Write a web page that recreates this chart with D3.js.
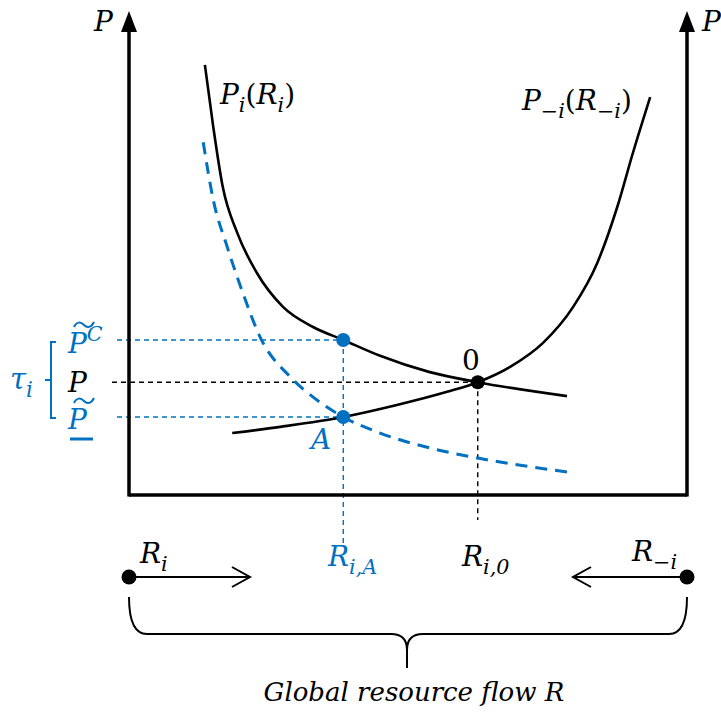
<!DOCTYPE html>
<html>
<head>
<meta charset="utf-8">
<script src="https://cdn.jsdelivr.net/npm/d3@7"></script>
<style>
  body { margin: 0; background: #fff; }
  text { font-family: "DejaVu Serif", "Liberation Serif", serif; }
</style>
</head>
<body>
<svg id="vis" width="721" height="715"></svg>
<script>
// curve data (R and P on a 0-100 scale)
const piCurve = [[13.6,89.6],[15.1,76.7],[16.8,64.2],[19.4,54.6],[22.9,46.3],[27.6,39.2],[33.0,35.0],[38.4,32.3],[45.0,29.0],[53.9,25.6],[62.5,23.5],[78.5,20.6]];
const pOtherCurve = [[18.5,12.9],[27.1,14.2],[38.4,16.25],[48.0,18.75],[57.0,21.5],[62.5,23.5],[68.3,26.7],[74.2,31.7],[79.6,39.2],[83.9,48.3],[87.5,60.0],[90.3,71.25],[93.4,82.9]];
const shiftedCurve = [[13.3,73.5],[15.1,61.5],[17.6,51.7],[20.4,42.1],[23.5,32.9],[28.9,24.6],[33.0,20.4],[38.4,16.25],[45.0,12.9],[53.9,9.8],[62.5,7.7],[78.5,4.8]];

const pointO = [62.5, 23.5];
const pointA = [38.4, 16.25];
const pointC = [38.4, 32.3];

const blue = "#0070C0";
const fs = 28;

const svg = d3.select("#vis");
const x = d3.scaleLinear().domain([0, 100]).range([129, 687]);
const y = d3.scaleLinear().domain([0, 100]).range([495, 15]);

const line = d3.line().x(d => x(d[0])).y(d => y(d[1])).curve(d3.curveMonotoneX);

// little helper for math labels with sub/superscripts
function label(x0, y0, parts, color, size) {
  const t = svg.append("text").attr("x", x0).attr("y", y0)
    .attr("fill", color).attr("font-size", size);
  let shift = 0;
  parts.forEach(p => {
    const [str, pos, style] = p;
    const target = pos === "sub" ? size * 0.28 : pos === "sup" ? -size * 0.42 : 0;
    t.append("tspan")
      .attr("dy", target - shift)
      .attr("font-size", pos === "base" ? size : size * 0.74)
      .attr("font-style", style || "italic")
      .text(str);
    shift = target;
  });
  return t;
}

// tilde mark drawn above a letter
function tilde(cx, cy) {
  svg.append("path")
    .attr("d", `M${cx - 10},${cy + 2} C${cx - 7},${cy - 4} ${cx - 3},${cy - 3} ${cx},${cy} S${cx + 7},${cy + 3} ${cx + 10},${cy - 3}`)
    .attr("fill", "none").attr("stroke", blue).attr("stroke-width", 2);
}

// dashed guide lines
const guides = svg.append("g").attr("fill", "none").attr("stroke-width", 1.4).attr("stroke-dasharray", "5,4");
guides.append("line").attr("x1", 117).attr("x2", x(pointC[0])).attr("y1", y(pointC[1])).attr("y2", y(pointC[1])).attr("stroke", blue);
guides.append("line").attr("x1", 112).attr("x2", x(pointO[0])).attr("y1", y(pointO[1])).attr("y2", y(pointO[1])).attr("stroke", "#000");
guides.append("line").attr("x1", 117).attr("x2", x(pointA[0])).attr("y1", y(pointA[1])).attr("y2", y(pointA[1])).attr("stroke", blue);
guides.append("line").attr("x1", x(pointA[0])).attr("x2", x(pointA[0])).attr("y1", y(pointC[1])).attr("y2", 545).attr("stroke", blue);
guides.append("line").attr("x1", x(pointO[0])).attr("x2", x(pointO[0])).attr("y1", y(pointO[1])).attr("y2", 520).attr("stroke", "#000");

// axes
const axes = svg.append("g").attr("stroke", "#000").attr("stroke-width", 3.5);
axes.append("line").attr("x1", x(0)).attr("x2", x(0)).attr("y1", y(0) + 1.5).attr("y2", 28);
axes.append("line").attr("x1", x(100)).attr("x2", x(100)).attr("y1", y(0) + 1.5).attr("y2", 28);
axes.append("line").attr("x1", x(0)).attr("x2", x(100)).attr("y1", y(0)).attr("y2", y(0));
[x(0), x(100)].forEach(ax => {
  svg.append("path").attr("d", `M${ax},11 L${ax - 8},32 L${ax + 8},32 Z`).attr("fill", "#000");
});

// curves
svg.append("path").datum(shiftedCurve).attr("d", line).attr("fill", "none")
  .attr("stroke", blue).attr("stroke-width", 3).attr("stroke-dasharray", "12,8");
svg.append("path").datum(piCurve).attr("d", line).attr("fill", "none")
  .attr("stroke", "#000").attr("stroke-width", 2.6);
svg.append("path").datum(pOtherCurve).attr("d", line).attr("fill", "none")
  .attr("stroke", "#000").attr("stroke-width", 2.6);

// points
svg.append("circle").attr("cx", x(pointC[0])).attr("cy", y(pointC[1])).attr("r", 7).attr("fill", blue);
svg.append("circle").attr("cx", x(pointA[0])).attr("cy", y(pointA[1])).attr("r", 7).attr("fill", blue);
svg.append("circle").attr("cx", x(pointO[0])).attr("cy", y(pointO[1])).attr("r", 7).attr("fill", "#000");

// labels on the plot
label(94, 31, [["P", "base"]], "#000", fs);
label(702, 31, [["P", "base"]], "#000", fs);
label(220, 104, [["P", "base"], ["i", "sub"], ["(", "base", "normal"], ["R", "base"], ["i", "sub"], [")", "base", "normal"]], "#000", fs);
label(522, 110, [["P", "base"], ["\u2212i", "sub"], ["(", "base", "normal"], ["R", "base"], ["\u2212i", "sub"], [")", "base", "normal"]], "#000", fs);
label(462, 370, [["0", "base", "normal"]], "#000", fs);
label(311, 449, [["A", "base"]], blue, fs);

// price levels on the left
label(68, 353, [["P", "base"], ["C", "sup"]], blue, fs);
label(68, 392, [["P", "base"]], "#000", fs);
label(68, 429, [["P", "base"]], blue, fs);
tilde(84, 325);
tilde(84, 401);
svg.append("line").attr("x1", 70).attr("x2", 93).attr("y1", 439).attr("y2", 439).attr("stroke", blue).attr("stroke-width", 3);
label(10, 389, [["\u03C4", "base"], ["i", "sub"]], blue, 29);
svg.append("path").attr("d", "M56,342 L51,342 L51,418 L56,418 M51,380 L45,380")
  .attr("fill", "none").attr("stroke", blue).attr("stroke-width", 2);

// bottom resource flow
const flowY = 577;
svg.append("line").attr("x1", x(0)).attr("x2", 250).attr("y1", flowY).attr("y2", flowY).attr("stroke", "#000").attr("stroke-width", 2);
svg.append("path").attr("d", `M232,567 L250,577 L232,587`).attr("fill", "none").attr("stroke", "#000").attr("stroke-width", 2);
svg.append("line").attr("x1", x(100)).attr("x2", 573).attr("y1", flowY).attr("y2", flowY).attr("stroke", "#000").attr("stroke-width", 2);
svg.append("path").attr("d", `M591,567 L573,577 L591,587`).attr("fill", "none").attr("stroke", "#000").attr("stroke-width", 2);
svg.append("circle").attr("cx", x(0)).attr("cy", flowY).attr("r", 7.5).attr("fill", "#000");
svg.append("circle").attr("cx", x(100)).attr("cy", flowY).attr("r", 7.5).attr("fill", "#000");

label(140, 563, [["R", "base"], ["i", "sub"]], "#000", fs);
label(328, 566, [["R", "base"], ["i,A", "sub"]], blue, fs);
label(462, 566, [["R", "base"], ["i,0", "sub"]], "#000", fs);
label(632, 561, [["R", "base"], ["\u2212i", "sub"]], "#000", fs);

// curly brace
const mid = 407;
svg.append("path")
  .attr("d", `M${x(0)},597 Q${x(0)},634 ${x(0) + 18},634 L${mid - 16},634 Q${mid},634 ${mid},650 L${mid},668
              M${x(100)},597 Q${x(100)},634 ${x(100) - 18},634 L${mid + 16},634 Q${mid},634 ${mid},650`)
  .attr("fill", "none").attr("stroke", "#000").attr("stroke-width", 2);

svg.append("text").attr("x", 414).attr("y", 701).attr("text-anchor", "middle")
  .attr("font-size", 26).attr("font-style", "italic").text("Global resource flow R");
</script>
</body>
</html>
